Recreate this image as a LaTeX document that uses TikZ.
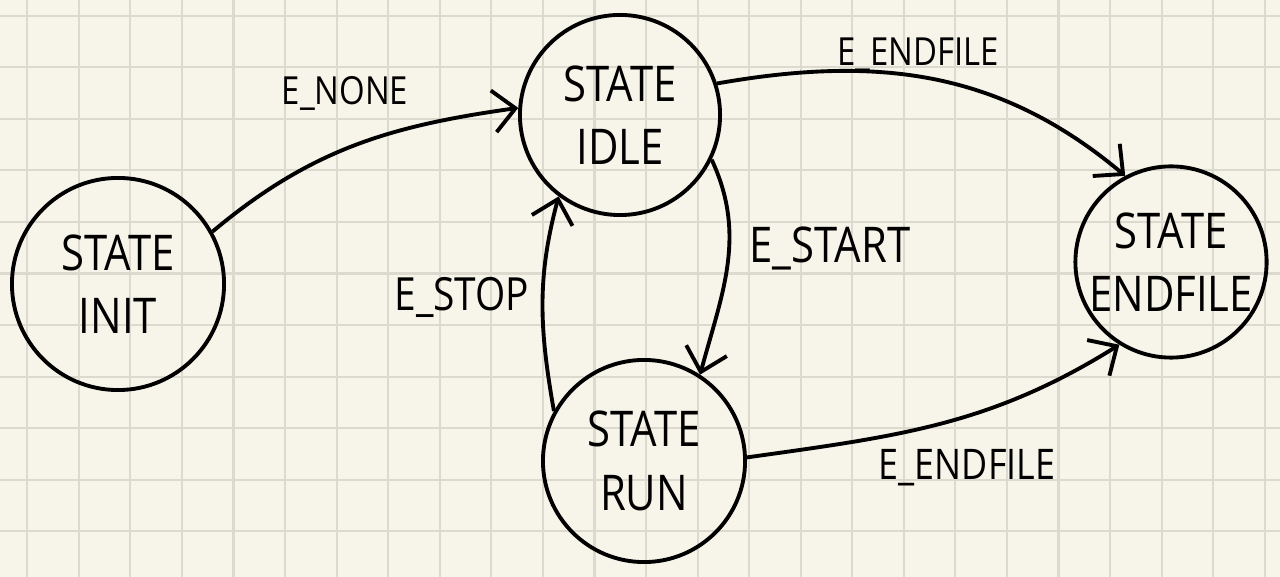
\documentclass[tikz,border=0pt]{standalone}
\usepackage{fontspec}
\setmainfont{Open Sans}
\newfontfamily\handfont[FakeStretch=0.85]{Open Sans}
\usetikzlibrary{arrows.meta}
\definecolor{paper}{HTML}{F7F4E9}
\definecolor{gridgray}{HTML}{DCD9CE}

\begin{document}
\begin{tikzpicture}[
    x=0.01cm, y=-0.01cm,
    state/.style={draw, circle, line width=1.1pt, align=center, inner sep=0pt,
        font=\handfont\fontsize{14}{18}\selectfont},
    lbl/.style={font=\handfont\fontsize{11}{13}\selectfont, inner sep=1pt},
    trans/.style={line width=1.1pt, -{Straight Barb[length=2.2mm, width=4.2mm]}},
    gridline/.style={gridgray, line width=0.6pt}
]
    % Paper and grid
    \useasboundingbox (0,0) rectangle (1280,577);
    \fill[paper] (0,0) rectangle (1280,577);
    \foreach \i in {0,...,24}
        \draw[gridline] ({27.3+51.56*\i},0) -- ({27.3+51.56*\i},577);
    \foreach \j in {0,...,11}
        \draw[gridline] (0,{15.7+51.56*\j}) -- (1280,{15.7+51.56*\j});

    % States
    \node[state, minimum size=2.12cm] (init) at (118,284) {STATE\\INIT};
    \node[state, minimum size=2.0cm] (idle) at (620,115) {STATE\\IDLE};
    \node[state, minimum size=2.02cm] (run) at (644,461) {STATE\\RUN};
    \node[state, minimum size=1.86cm] (endfile) at (1171,262) {STATE\\ENDFILE};

    % Transitions
    \draw[trans] (init.29) to[out=40, in=188] (idle.176);
    \draw[trans] (idle.18) to[out=10, in=140] (endfile.118);
    \draw[trans] (idle.-26) to[out=-65, in=75] (run.57);
    \draw[trans] (run.151) to[out=100, in=255] (idle.233);
    \draw[trans] (run.2) to[out=8, in=212] (endfile.238);

    % Labels
    \node[lbl] (lnone) at (345,93) {E\_NONE};
    \node[lbl] (lend1) at (918,55) {E\_ENDFILE};
    \node[lbl, font=\handfont\fontsize{14}{16}\selectfont] (lstart) at (830,248) {E\_START};
    \node[lbl, font=\handfont\fontsize{13}{15}\selectfont] (lstop) at (462,297) {E\_STOP};
    \node[lbl, font=\handfont\fontsize{12}{14}\selectfont] (lend2) at (967,468) {E\_ENDFILE};
\end{tikzpicture}
\end{document}
